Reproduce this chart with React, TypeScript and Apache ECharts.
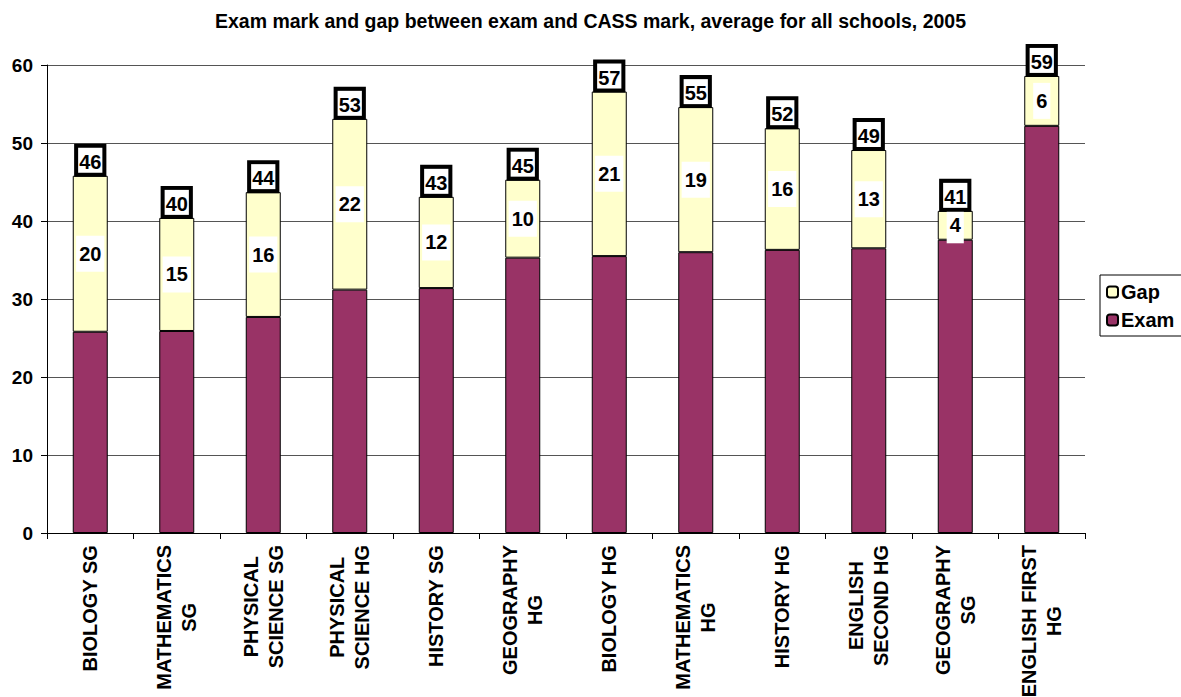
import React, { useEffect, useRef } from "react";
import * as echarts from "echarts";

const titleText = "Exam mark and gap between exam and CASS mark, average for all schools, 2005";
const categories = [
  "BIOLOGY SG",
  "MATHEMATICS\nSG",
  "PHYSICAL\nSCIENCE SG",
  "PHYSICAL\nSCIENCE HG",
  "HISTORY SG",
  "GEOGRAPHY\nHG",
  "BIOLOGY HG",
  "MATHEMATICS\nHG",
  "HISTORY HG",
  "ENGLISH\nSECOND HG",
  "GEOGRAPHY\nSG",
  "ENGLISH FIRST\nHG",
];
const examValues = [25.8, 25.9, 27.7, 31.2, 31.4, 35.3, 35.5, 36.0, 36.3, 36.5, 37.6, 52.2];
const gapValues = [20.0, 14.5, 16.0, 21.9, 11.7, 10.0, 21.1, 18.6, 15.6, 12.6, 3.7, 6.4];
const yTicks = { min: 0, max: 60, interval: 10 };

const FONT = 'Arial, "Liberation Sans", Helvetica, sans-serif';

export default function App() {
  const ref = useRef<HTMLDivElement>(null);
  useEffect(() => {
    if (!ref.current) return;
    const chart = echarts.init(ref.current, null, { renderer: "svg" });
    const totals = examValues.map((v, i) => v + gapValues[i]);
    chart.setOption({
      animation: false,
      backgroundColor: "#fff",
      textStyle: { fontFamily: FONT },
      title: {
        text: titleText,
        left: "center",
        top: 6,
        textStyle: { fontFamily: FONT, fontWeight: "bold", fontSize: 19.5, color: "#000" },
      },
      legend: {
        orient: "vertical",
        left: 1100,
        top: 275,
        data: ["Gap", "Exam"],
        itemWidth: 11,
        itemHeight: 11,
        itemGap: 8,
        padding: [7, 40, 6, 6],
        borderColor: "#000",
        borderWidth: 1,
        textStyle: { fontFamily: FONT, fontWeight: "bold", fontSize: 20, color: "#000", padding: [0, 0, 0, -2] },
      },
      grid: { left: 47, right: 96, top: 65, bottom: 164, containLabel: false, outerBoundsMode: "none" },
      xAxis: {
        type: "category",
        data: categories,
        axisLine: { lineStyle: { color: "#000", width: 1 } },
        axisTick: { show: true, inside: false, length: 6, alignWithLabel: false, lineStyle: { color: "#000" } },
        axisLabel: {
          rotate: 90,
          interval: 0,
          margin: 12,
          color: "#000",
          fontFamily: FONT,
          fontWeight: "bold",
          fontSize: 20,
          lineHeight: 25,
          formatter: (v: string) => v.split("\n").map((s) => `{c|${s}}`).join("\n"),
          rich: {
            c: { align: "center", fontFamily: FONT, fontWeight: "bold", fontSize: 20, lineHeight: 25, color: "#000" },
          },
        },
      },
      yAxis: {
        type: "value",
        min: yTicks.min,
        max: yTicks.max,
        interval: yTicks.interval,
        axisLine: { show: true, lineStyle: { color: "#000" } },
        axisTick: { show: true, inside: false, length: 6, lineStyle: { color: "#000" } },
        axisLabel: { color: "#000", fontFamily: FONT, fontWeight: "bold", fontSize: 19, margin: 14 },
        splitLine: { show: true, lineStyle: { color: "#555", width: 1 } },
      },
      series: [
        {
          name: "Exam",
          type: "bar",
          stack: "s",
          barWidth: 35,
          data: examValues,
          itemStyle: { color: "#993366", borderColor: "#000", borderWidth: 1 },
        },
        {
          name: "Gap",
          type: "bar",
          stack: "s",
          barWidth: 35,
          data: gapValues,
          itemStyle: { color: "#FFFFCC", borderColor: "#000", borderWidth: 1 },
          label: {
            show: true,
            position: "inside",
            formatter: (p: any) => String(Math.round(p.value)),
            fontFamily: FONT,
            fontWeight: "bold",
            fontSize: 20,
            color: "#000",
            backgroundColor: "#fff",
            padding: [9, 3, 7, 3],
          },
        },
        {
          name: "Total",
          type: "bar",
          stack: "s",
          barWidth: 35,
          data: examValues.map(() => 0),
          itemStyle: { color: "transparent", borderWidth: 0 },
          label: {
            show: true,
            position: "top",
            distance: 3,
            formatter: (p: any) => String(Math.round(totals[p.dataIndex])),
            fontFamily: FONT,
            fontWeight: "bold",
            fontSize: 20,
            color: "#000",
            backgroundColor: "#fff",
            borderColor: "#000",
            borderWidth: 4,
            padding: [4, 1, 1, 1],
          },
        },
      ],
    });
    return () => chart.dispose();
  }, []);
  return <div ref={ref} style={{ width: 1181, height: 697, position: "absolute", left: 0, top: 0 }} />;
}
